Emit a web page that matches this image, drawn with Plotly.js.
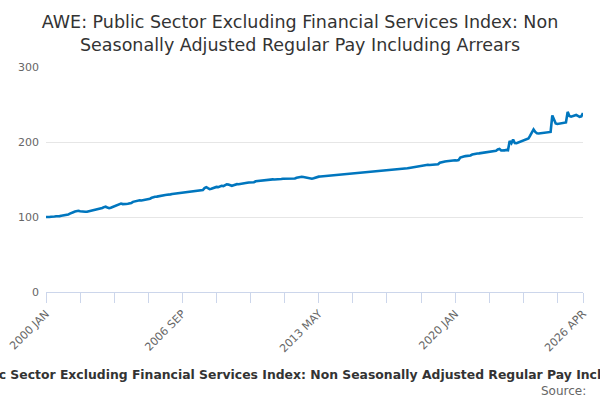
<!DOCTYPE html>
<html>
<head>
<meta charset="utf-8">
<script src="https://cdn.plot.ly/plotly-3.0.1.min.js"></script>
<style>
  html, body { margin: 0; padding: 0; background: #fff; overflow: hidden; }
  #chart { width: 600px; height: 400px; }
</style>
</head>
<body>
<div id="chart"></div>
<script>
const chartTitle = 'AWE: Public Sector Excluding Financial Services Index: Non Seasonally Adjusted Regular Pay Including Arrears';

const firstYear = 2000;
const monthNames = ['JAN', 'FEB', 'MAR', 'APR', 'MAY', 'JUN', 'JUL', 'AUG', 'SEP', 'OCT', 'NOV', 'DEC'];

// monthly index values, 2000 JAN .. 2026 APR
const values = [
  100.0, 99.6, 100.1, 100.4, 100.2, 100.6, 101.0, 100.8, 101.2, 101.6, 102.0, 102.2,
  102.8, 103.2, 104.6, 106.0, 106.4, 107.2, 107.8, 108.2, 107.6, 107.2, 107.4, 107.0,
  107.1, 107.6, 108.4, 109.3, 109.0, 109.8, 110.4, 110.8, 111.6, 112.0, 113.2, 113.8,
  112.6, 111.8, 112.4, 113.5, 114.2, 115.0, 116.2, 117.4, 117.9, 117.2, 116.8, 117.4,
  117.6, 117.9, 118.6, 120.2, 120.8, 121.4, 121.9, 122.3, 122.1, 122.6, 122.8, 123.0,
  123.2, 124.4, 125.6, 126.6, 126.9, 127.2, 127.8, 128.3, 128.6, 128.9, 129.3, 129.6,
  129.4, 130.2, 130.6, 130.9, 131.4, 131.2, 131.8, 132.2, 132.5, 132.4, 133.0, 133.6,
  133.4, 133.9, 134.2, 134.8, 134.6, 135.1, 135.6, 135.3, 136.0, 138.6, 139.8, 138.4,
  137.2, 137.6, 138.4, 139.6, 140.1, 139.8, 140.8, 141.6, 141.2, 141.9, 143.6, 143.2,
  142.0, 141.6, 142.4, 143.5, 143.8, 143.6, 144.2, 144.8, 145.2, 145.8, 145.6, 145.9,
  146.1, 146.0, 146.4, 147.6, 147.9, 148.2, 148.6, 148.4, 149.0, 149.6, 149.8, 150.1,
  150.0, 150.2, 150.0, 150.4, 150.6, 150.8, 150.6, 150.9, 151.0, 150.7, 150.6, 150.8,
  150.6, 151.0, 151.4, 152.4, 152.9, 153.2, 153.6, 153.4, 153.0, 152.4, 151.8, 151.2,
  151.0, 151.6, 152.6, 153.6, 153.8, 154.0, 154.2, 154.4, 154.6, 154.9, 155.2, 155.4,
  155.4, 155.6, 155.8, 156.2, 156.4, 156.6, 156.8, 157.0, 157.2, 157.4, 157.6, 157.8,
  157.7, 158.0, 158.2, 158.6, 158.8, 159.0, 159.4, 159.6, 159.8, 160.0, 160.2, 160.4,
  160.3, 160.6, 160.8, 161.2, 161.4, 161.6, 161.9, 162.0, 162.2, 162.4, 162.6, 162.8,
  162.7, 163.0, 163.2, 163.8, 164.0, 164.2, 164.6, 164.8, 165.0, 165.4, 165.8, 166.2,
  166.1, 166.4, 166.8, 167.6, 168.2, 168.6, 169.4, 169.8, 169.6, 169.4, 169.5, 169.6,
  169.4, 169.8, 170.4, 172.4, 173.2, 173.6, 174.0, 174.4, 174.8, 175.4, 175.8, 176.0,
  175.6, 175.4, 175.8, 179.2, 180.4, 180.8, 181.2, 181.4, 181.6, 182.0, 183.2, 184.0,
  184.2, 184.6, 184.8, 185.2, 185.6, 186.0, 186.2, 186.4, 186.6, 187.0, 187.6, 188.0,
  188.4, 190.0, 190.8, 188.6, 188.2, 188.8, 189.4, 189.0, 201.4, 198.4, 203.2, 198.6,
  198.4, 199.2, 200.0, 200.6, 201.2, 202.4, 203.4, 204.6, 208.4, 212.0, 216.8, 213.4,
  211.6, 211.4, 211.8, 212.0, 211.6, 212.2, 212.6, 213.0, 213.4, 235.4, 230.6, 224.8,
  224.0, 224.4, 224.8, 225.0, 225.6, 226.0, 240.2, 234.6, 233.8, 234.6, 235.4, 236.0,
  234.8, 233.6, 234.2, 238.6
];

// one label per month, same length as values
const months = values.map((_, i) =>
  `${firstYear + Math.floor(i / 12)} ${monthNames[i % 12]}`);

// tick every 20 months plus the last month, label every 4th tick
const tickIdx = [0, 20, 40, 60, 80, 100, 120, 140, 160, 180, 200, 220, 240, 260, 280, 300, 315];
const labelIdx = [0, 80, 160, 240, 315];

const lineColor = '#0076be';
const axisColor = '#ccd6eb';
const font = 'DejaVu Sans, Verdana, sans-serif';

Plotly.newPlot('chart', [{
  type: 'scatter',
  mode: 'lines',
  x: months,
  y: values,
  line: {color: lineColor, width: 2.6},
  hoverinfo: 'x+y',
}], {
  width: 600,
  height: 400,
  margin: {l: 46, r: 17, t: 67, b: 108},
  paper_bgcolor: '#fff',
  plot_bgcolor: '#fff',
  showlegend: false,
  font: {family: font, color: '#666', size: 11},
  title: {
    text: 'AWE: Public Sector Excluding Financial Services Index: Non<br>Seasonally Adjusted Regular Pay Including Arrears',
    font: {family: font, size: 17.5, color: '#333'},
    x: 0.5,
    xanchor: 'center',
    yref: 'container',
    y: 0.93,
    yanchor: 'middle',
  },
  xaxis: {
    type: 'category',
    range: [0, values.length - 1],
    tickmode: 'array',
    tickvals: tickIdx.map(i => months[i]),
    ticktext: tickIdx.map(i => labelIdx.includes(i) ? months[i] : ''),
    tickangle: -45,
    ticks: 'outside',
    ticklen: 10,
    tickcolor: axisColor,
    showline: true,
    linecolor: axisColor,
    linewidth: 1,
    showgrid: false,
    zeroline: false,
    tickfont: {family: font, size: 11, color: '#666'},
  },
  yaxis: {
    range: [0, 300],
    tickvals: [0, 100, 200, 300],
    showgrid: true,
    gridcolor: '#e6e6e6',
    zeroline: false,
    showline: false,
    ticks: '',
    ticklabelstandoff: 6,
    tickfont: {family: font, size: 11, color: '#666'},
  },
  annotations: [{
    text: '<b>' + chartTitle + '</b>',
    xref: 'paper', yref: 'paper',
    x: (310 - 46) / 537, y: -0.365,
    xanchor: 'center', yanchor: 'middle',
    showarrow: false,
    font: {family: font, size: 12.4, color: '#333'},
  }, {
    text: 'Source:',
    xref: 'paper', yref: 'paper',
    x: 1.01, y: -0.44,
    xanchor: 'right', yanchor: 'middle',
    showarrow: false,
    font: {family: font, size: 12, color: '#666'},
  }],
}, {displayModeBar: false, staticPlot: true});
</script>
</body>
</html>
